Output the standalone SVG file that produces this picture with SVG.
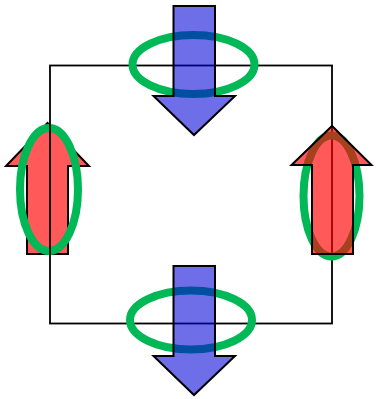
<svg xmlns="http://www.w3.org/2000/svg" width="376" height="399" viewBox="0 0 376 399">
<style>
.ring{fill:none;stroke:#00b856;stroke-width:8}
.blue{fill:#0000d8;fill-opacity:0.57;stroke:#000;stroke-width:2;stroke-linejoin:miter}
.red{fill:#ff0000;fill-opacity:0.65;stroke:#000;stroke-width:2;stroke-linejoin:miter}
.wire{fill:none;stroke:#000;stroke-width:1.8}
</style>
<rect width="376" height="399" fill="#fff"/>
<g id="left">
<polygon class="red" points="27,254 27,166 6,166 47.5,123 89,166 68,166 68,254"/>
<ellipse class="ring" cx="49" cy="189.5" rx="29" ry="61.5"/>
</g>
<g id="connectors">
<rect class="wire" x="50" y="65.5" width="282" height="258"/>
</g>
<g id="top">
<ellipse class="ring" cx="193.5" cy="64.5" rx="61" ry="29.5"/>
<polygon class="blue" points="173.5,6 215,6 215,96 235,96 194,135 153.5,96 173.5,96"/>
</g>
<g id="right">
<ellipse class="ring" cx="331.5" cy="196" rx="28" ry="60.5"/>
<polygon class="red" points="312,254 312,165 291.5,165 332,126 371.5,165 353,165 353,254"/>
</g>
<g id="bottom">
<ellipse class="ring" cx="191" cy="320" rx="61" ry="29.5"/>
<polygon class="blue" points="173.5,266 215,266 215,356 235,356 194,395 153.5,356 173.5,356"/>
</g>
</svg>
